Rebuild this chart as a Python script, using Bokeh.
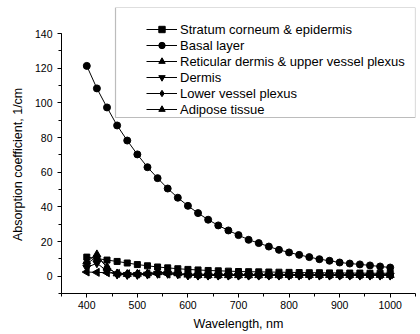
from bokeh.plotting import figure
from bokeh.embed import file_html
from bokeh.resources import INLINE
from bokeh.models import Range1d, SingleIntervalTicker, BoxAnnotation, Legend

wavelength = list(range(400, 1001, 20))

stratum = [11.0, 10.2, 9.3, 8.5, 7.6, 6.7, 6.0, 5.3, 4.8, 4.3, 3.9, 3.6, 3.3, 3.1, 2.9, 2.7,
           2.6, 2.5, 2.4, 2.3, 2.2, 2.1, 2.0, 2.0, 1.9, 1.9, 1.8, 1.8, 1.7, 1.7, 1.7]
basal = [121.4, 108.4, 97.4, 87.0, 78.3, 70.3, 62.9, 56.6, 50.6, 45.3, 40.6, 36.4, 32.6, 29.3,
         26.4, 23.7, 21.0, 19.1, 17.1, 15.2, 13.7, 12.3, 11.0, 9.8, 8.9, 7.9, 7.3, 6.8, 6.2, 5.6, 5.0]
reticular = [8.5, 12.5, 4.8, 1.5, 1.2, 1.3, 1.6, 2.2, 2.1, 1.6, 0.8, 0.6, 0.5, 0.5, 0.5, 0.5,
             0.5, 0.5, 0.5, 0.5, 0.6, 0.6, 0.6, 0.6, 0.6, 0.6, 0.6, 0.6, 0.6, 0.6, 0.6]
dermis = [5.0, 7.5, 3.0, 1.0, 0.8, 0.8, 1.0, 1.4, 1.4, 1.1, 0.5, 0.4, 0.4, 0.4, 0.4, 0.4,
          0.4, 0.4, 0.4, 0.4, 0.4, 0.4, 0.4, 0.4, 0.4, 0.4, 0.4, 0.4, 0.4, 0.4, 0.4]
lower_vessel = [7.0, 11.5, 5.2, 1.3, 0.9, 1.0, 1.3, 2.0, 2.0, 1.5, 0.6, 0.4, 0.4, 0.4, 0.4, 0.4,
                0.4, 0.4, 0.4, 0.4, 0.5, 0.5, 0.5, 0.5, 0.5, 0.5, 0.5, 0.5, 0.5, 0.5, 0.5]
adipose = [2.4, 2.2, 2.0, 1.6, 1.4, 1.3, 1.3, 1.3, 1.2, 1.2, 1.1, 1.1, 1.0, 1.0, 1.0, 1.0,
           1.0, 1.0, 0.9, 0.9, 0.9, 0.9, 0.9, 0.9, 0.9, 0.9, 0.9, 0.9, 0.9, 0.9, 0.9]

series_names = ["Stratum corneum & epidermis", "Basal layer",
                "Reticular dermis & upper vessel plexus", "Dermis",
                "Lower vessel plexus", "Adipose tissue"]
series_values = [stratum, basal, reticular, dermis, lower_vessel, adipose]
series_markers = ["square", "circle", "triangle", "inverted_triangle", "diamond", "triangle"]
series_sizes = [6, 7, 8, 8, 9, 8]
series_angles = [0, 0, 0, 0, 0, 1.5708]

FONT = "Liberation Sans"

p = figure(width=420, height=334, output_backend="svg", toolbar_location=None,
           x_range=Range1d(350, 1050), y_range=Range1d(-10, 155.1),
           min_border_left=61, min_border_right=5, min_border_top=7, min_border_bottom=41)
p.outline_line_color = None
p.xgrid.visible = False
p.ygrid.visible = False
p.background_fill_color = "white"
p.border_fill_color = "white"

box = BoxAnnotation(left=115, right=415, top=7, bottom=117,
                    left_units="canvas", right_units="canvas",
                    top_units="canvas", bottom_units="canvas",
                    fill_color="white", fill_alpha=1.0, line_color="#222222", line_width=1.2,
                    level="overlay")
p.add_layout(box)

items = []
for name, vals, marker, size, ang in zip(series_names, series_values, series_markers,
                                          series_sizes, series_angles):
    r1 = p.line(wavelength, vals, line_color="black", line_width=1)
    r2 = p.scatter(wavelength, vals, marker=marker, size=size, angle=ang,
                   fill_color="black", line_color="black")
    items.append((name, [r1, r2]))

legend = Legend(items=items, location=(85, 176))
legend.background_fill_alpha = 0
legend.border_line_alpha = 0
legend.label_text_font = FONT
legend.label_text_font_size = "13px"
legend.label_text_color = "black"
legend.glyph_width = 31
legend.glyph_height = 16
legend.label_height = 16
legend.label_standoff = 3
legend.spacing = 0
legend.padding = 0
legend.margin = 0
legend.level = "overlay"
p.add_layout(legend, "center")

for ax in (p.xaxis[0], p.yaxis[0]):
    ax.axis_line_color = "black"
    ax.major_tick_line_color = "black"
    ax.minor_tick_line_color = "black"
    ax.major_tick_in = 0
    ax.major_tick_out = 4
    ax.minor_tick_in = 0
    ax.minor_tick_out = 3
    ax.major_label_text_font = FONT
    ax.major_label_text_font_size = "10.5px"
    ax.major_label_text_color = "black"
    ax.axis_label_text_font = FONT
    ax.axis_label_text_font_size = "12.5px"
    ax.axis_label_text_font_style = "normal"
    ax.axis_label_text_color = "black"

p.xaxis.ticker = SingleIntervalTicker(interval=100, num_minor_ticks=2)
p.yaxis.ticker = SingleIntervalTicker(interval=20, num_minor_ticks=2)
p.xaxis.bounds = (350, 1050)
p.yaxis.bounds = (-10, 140)
p.xaxis.axis_label = "Wavelength, nm"
# trailing no-break spaces keep the label centred on the drawn axis span (-10..140)
p.yaxis.axis_label = "Absorption coefficient, 1/cm" + "\u00a0" * 8
p.xaxis.major_label_standoff = 3
p.yaxis.major_label_standoff = 5
p.xaxis.axis_label_standoff = 5
p.yaxis.axis_label_standoff = 7

open("out.html", "w").write(file_html(p, INLINE))
